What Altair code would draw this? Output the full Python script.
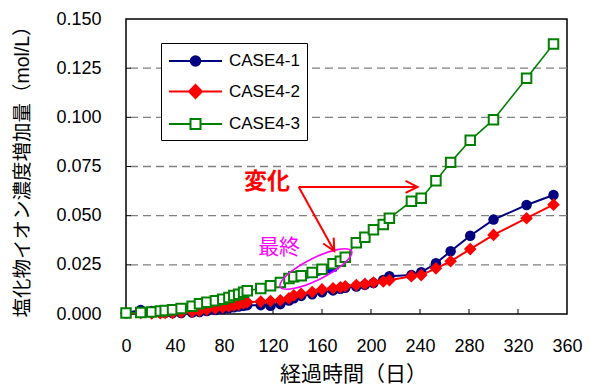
import altair as alt
import pandas as pd

# ---------------- data ----------------
days = [0, 12, 21, 28, 32, 38, 45, 54, 60, 66, 73, 79, 84, 88, 92, 96, 99, 110, 118, 126,
        133, 137, 143, 152, 160, 169, 175, 179, 188, 195, 202, 210, 215, 233, 241, 253,
        265, 281, 300, 327, 349]
case4_1 = [0.0005, 0.0020, 0.0015, 0.0008, 0.0006, 0.0005, 0.0005, 0.0008, 0.0010, 0.0015,
           0.0020, 0.0025, 0.0030, 0.0034, 0.0038, 0.0042, 0.0045, 0.0045, 0.0042, 0.0050,
           0.0068, 0.0080, 0.0092, 0.0100, 0.0110, 0.0120, 0.0128, 0.0133, 0.0140, 0.0148,
           0.0158, 0.0173, 0.0192, 0.0198, 0.0212, 0.0258, 0.0319, 0.0398, 0.0480, 0.0554,
           0.0605]
case4_2 = [0.0005, 0.0005, 0.0003, 0.0004, 0.0005, 0.0006, 0.0008, 0.0012, 0.0016, 0.0022,
           0.0028, 0.0034, 0.0038, 0.0043, 0.0048, 0.0055, 0.0060, 0.0063, 0.0066, 0.0070,
           0.0080, 0.0095, 0.0103, 0.0112, 0.0125, 0.0131, 0.0136, 0.0141, 0.0147, 0.0153,
           0.0160, 0.0165, 0.0172, 0.0192, 0.0198, 0.0232, 0.0268, 0.0330, 0.0402, 0.0487,
           0.0556]
case4_3 = [0.0005, 0.0008, 0.0010, 0.0015, 0.0018, 0.0022, 0.0028, 0.0040, 0.0052, 0.0060,
           0.0067, 0.0075, 0.0084, 0.0094, 0.0101, 0.0110, 0.0118, 0.0130, 0.0144, 0.0160,
           0.0180, 0.0189, 0.0195, 0.0211, 0.0228, 0.0255, 0.0268, 0.0288, 0.0362, 0.0390,
           0.0428, 0.0455, 0.0487, 0.0573, 0.0588, 0.0678, 0.0771, 0.0883, 0.0988, 0.1199,
           0.1373]
series_names = ["CASE4-1", "CASE4-2", "CASE4-3"]

x_ticks = [0, 40, 80, 120, 160, 200, 240, 280, 320, 360]
y_ticks = [0.0, 0.025, 0.05, 0.075, 0.1, 0.125, 0.15]
grid_values = [0.025, 0.05, 0.075, 0.1, 0.125]

# annotation data (in data units)
highlight_days = [129, 172]
highlight_values = [0.0163, 0.0229]
ellipse_day = [155]
ellipse_value = [0.0229]
arrow_start_day = [141, 141]
arrow_start_value = [0.0646, 0.0646]
arrow_end_day = [170, 238]
arrow_end_value = [0.032, 0.0646]
arrow_angle = [61, 0]
label_change = "変化"
label_change_pos = ([115], [0.0671])
label_final = "最終"
label_final_pos = ([125], [0.0336])

# ---------------- styles ----------------
FONT = "Liberation Sans, Arial, Noto Sans CJK JP, sans-serif"
line_colors = ["#000080", "#FF0000", "#008000"]
fill_colors = ["#000080", "#FF0000", "#FFFFFF"]
line_widths = [2, 2, 1.6]
point_shapes = ["circle", "diamond", "square"]
point_sizes = [110, 160, 90]
point_filled = [True, True, False]

# legend symbols: unit = 10 px (size 400); line 53 px long, marker centred at x = 1.65
legend_paths = [
    "M-1,0L4.3,0M1.175,0A0.475,0.475,0,1,0,2.125,0A0.475,0.475,0,1,0,1.175,0Z",
    "M-1,0L4.3,0M1.65,-0.65L2.3,0L1.65,0.65L1.0,0Z",
    "M-1,0L1.15,0M2.15,0L4.3,0M1.15,-0.5L2.15,-0.5L2.15,0.5L1.15,0.5Z",
]
ellipse_path = "M-0.894,0.447A1,0.28,-26.6,0,1,0.894,-0.447A1,0.28,-26.6,0,1,-0.894,0.447Z"
arrowhead_path = "M-1,-0.5L0,0L-1,0.5"

# ---------------- frames ----------------
series_df = pd.DataFrame({
    "day": days * 3,
    "value": case4_1 + case4_2 + case4_3,
    "series": [s for s in series_names for _ in days],
})
grid_df = pd.DataFrame({"value": grid_values})
xtick_df = pd.DataFrame({"day": x_ticks[1:-1], "value": [0.0] * (len(x_ticks) - 2)})
ytick_df = pd.DataFrame({"day": [0] * (len(y_ticks) - 2), "value": y_ticks[1:-1]})
hl_df = pd.DataFrame({"day": highlight_days, "value": highlight_values})
ell_df = pd.DataFrame({"day": ellipse_day, "value": ellipse_value})
arrow_df = pd.DataFrame({"day": arrow_start_day, "value": arrow_start_value,
                         "day2": arrow_end_day, "value2": arrow_end_value})
head_df = pd.DataFrame({"day": arrow_end_day, "value": arrow_end_value, "angle": arrow_angle})
chg_df = pd.DataFrame({"day": label_change_pos[0], "value": label_change_pos[1], "label": [label_change]})
fin_df = pd.DataFrame({"day": label_final_pos[0], "value": label_final_pos[1], "label": [label_final]})

# ---------------- scales / axes ----------------
xs = alt.Scale(domain=[0, 360], nice=False, zero=False)
ys = alt.Scale(domain=[0, 0.15], nice=False)

x_axis = alt.Axis(values=x_ticks, title="経過時間（日）", grid=False, ticks=False, domain=False,
                  labelFlush=False, labelOverlap=False, labelFont=FONT, labelFontSize=18,
                  labelColor="black", labelPadding=23, titleFont=FONT, titleFontSize=21,
                  titleFontWeight="normal", titleColor="black", titleX=227, titleY=60,
                  titleBaseline="middle")
y_axis = alt.Axis(values=y_ticks, format=".3f", title="塩化物イオン濃度増加量（mol/L）",
                  grid=False, ticks=False, domain=False, labelFlush=False, labelOverlap=False,
                  labelFont=FONT, labelFontSize=18, labelColor="black", labelPadding=25,
                  titleFont=FONT, titleFontSize=19.5, titleFontWeight="normal", titleColor="black",
                  titleX=-104, titleY=147.5, titleAngle=-90, titleBaseline="middle",
                  titleAlign="center")


def X(field="day"):
    return alt.X(f"{field}:Q", scale=xs, axis=x_axis)


def Y(field="value"):
    return alt.Y(f"{field}:Q", scale=ys, axis=y_axis)


layers = []
layers.append(alt.Chart(grid_df).mark_rule(color="#808080", strokeDash=[8, 5], strokeWidth=1.3)
              .encode(y=Y()))
layers.append(alt.Chart(xtick_df).mark_tick(orient="vertical", size=5, thickness=1, color="black",
                                            yOffset=-2.5, opacity=1).encode(x=X(), y=Y()))
layers.append(alt.Chart(ytick_df).mark_tick(orient="horizontal", size=5, thickness=1, color="black",
                                            xOffset=2.5, opacity=1).encode(x=X(), y=Y()))
layers.append(alt.Chart(hl_df).mark_line(color="#0000FF", strokeWidth=4.5).encode(x=X(), y=Y()))

for i, name in enumerate(series_names):
    sdf = series_df[series_df["series"] == name]
    layers.append(alt.Chart(sdf).mark_line(color=line_colors[i], strokeWidth=line_widths[i])
                  .encode(x=X(), y=Y()))
    if point_filled[i]:
        pm = alt.Chart(sdf).mark_point(shape=point_shapes[i], size=point_sizes[i], filled=True,
                                       color=line_colors[i], opacity=1)
    else:
        pm = alt.Chart(sdf).mark_point(shape=point_shapes[i], size=point_sizes[i], filled=False,
                                       fill=fill_colors[i], stroke=line_colors[i], strokeWidth=2,
                                       opacity=1)
    layers.append(pm.encode(x=X(), y=Y()))

leg = alt.Legend(title=None, orient="none", legendX=35, legendY=24, direction="vertical",
                 strokeColor="#000000", fillColor="#FFFFFF", padding=7, labelFont=FONT,
                 labelFontSize=17, labelColor="black", labelOffset=39, symbolSize=400,
                 symbolStrokeWidth=2, rowPadding=10.5, labelLimit=300)
layers.append(
    alt.Chart(series_df).transform_filter("datum.day < 0")
    .mark_point(filled=False, opacity=1, strokeWidth=2)
    .encode(
        x=X(), y=Y(),
        color=alt.Color("series:N", scale=alt.Scale(domain=series_names, range=line_colors), legend=leg),
        fill=alt.Fill("series:N", scale=alt.Scale(domain=series_names, range=fill_colors), legend=leg),
        shape=alt.Shape("series:N", scale=alt.Scale(domain=series_names, range=legend_paths), legend=leg),
    )
)

layers.append(alt.Chart(ell_df).mark_point(shape=ellipse_path, size=6400, filled=False,
                                           color="#FF00FF", strokeWidth=1.6, opacity=1)
              .encode(x=X(), y=Y()))
layers.append(alt.Chart(arrow_df).mark_rule(color="#FF0000", strokeWidth=2)
              .encode(x=X(), y=Y(), x2="day2:Q", y2="value2:Q"))
layers.append(alt.Chart(head_df).mark_point(shape=arrowhead_path, size=576, filled=False,
                                            color="#FF0000", strokeWidth=2, opacity=1)
              .encode(x=X(), y=Y(), angle=alt.Angle("angle:Q", scale=None)))
layers.append(alt.Chart(chg_df).mark_text(font=FONT, fontSize=23, fontWeight="bold", color="#FF0000")
              .encode(x=X(), y=Y(), text="label:N"))
layers.append(alt.Chart(fin_df).mark_text(font=FONT, fontSize=21, color="#FF00FF")
              .encode(x=X(), y=Y(), text="label:N"))

chart = (
    alt.layer(*layers)
    .properties(width=441, height=295, autosize=alt.AutoSizeParams(type="none"),
                padding={"left": 118, "top": 11, "right": 16, "bottom": 70},
                background="white")
    .configure_view(stroke="black", strokeWidth=1.5)
)

chart.save("out.html", embed_options={"renderer": "svg", "actions": False})
